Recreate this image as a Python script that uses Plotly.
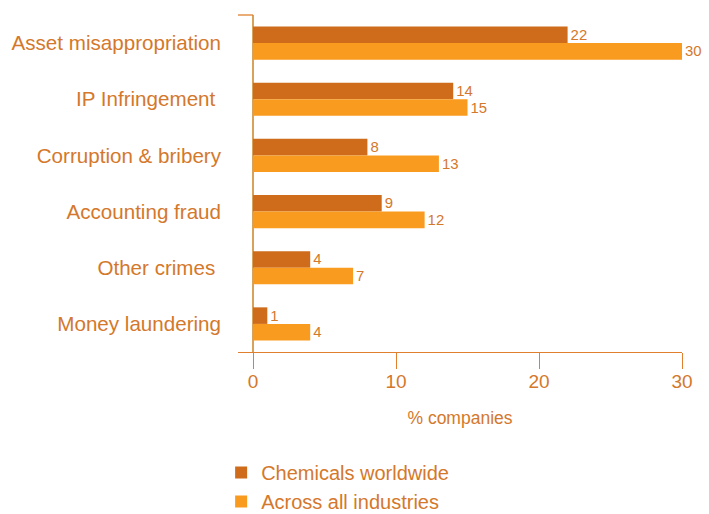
import plotly.graph_objects as go

categories = ["Asset misappropriation", "IP Infringement ", "Corruption & bribery",
              "Accounting fraud", "Other crimes ", "Money laundering"]
chemicals = [22, 14, 8, 9, 4, 1]
all_industries = [30, 15, 13, 12, 7, 4]
series_names = ["Chemicals worldwide", "Across all industries"]
tick_vals = [0, 10, 20, 30]

TXT = "#D4782C"
DARK = "#CF6C1B"
LIGHT = "#F99B1F"
FONT = "Liberation Sans, Arial, sans-serif"

fig = go.Figure()
fig.add_trace(go.Bar(y=categories, x=chemicals, orientation="h", name=series_names[0],
                     marker=dict(color=DARK, line=dict(width=0)),
                     text=chemicals, textposition="outside", cliponaxis=False,
                     textfont=dict(color=TXT, size=18, family=FONT)))
fig.add_trace(go.Bar(y=categories, x=all_industries, orientation="h", name=series_names[1],
                     marker=dict(color=LIGHT, line=dict(width=0)),
                     text=all_industries, textposition="outside", cliponaxis=False,
                     textfont=dict(color=TXT, size=18, family=FONT)))

fig.update_layout(
    width=709, height=514,
    margin=dict(l=238, r=27, t=15, b=162, autoexpand=False),
    paper_bgcolor="white", plot_bgcolor="white",
    barmode="group", bargap=0.41, bargroupgap=0,
    font=dict(family=FONT, color=TXT, size=20),
    showlegend=True,
    legend=dict(orientation="v", x=-0.038, xanchor="left", y=-0.30, yanchor="top",
                font=dict(size=20, color=TXT), traceorder="normal",
                itemwidth=30, tracegroupgap=0),
    xaxis=dict(range=[-1.05, 30], tickvals=tick_vals, showgrid=False,
               showline=True, linecolor="#E0802E", linewidth=1.3,
               ticks="outside", ticklen=16, tickcolor="#E0802E", tickwidth=1.3,
               tickfont=dict(size=19, color=TXT), ticklabelstandoff=-4,
               zeroline=True, zerolinecolor="#D9A25A", zerolinewidth=1.5,
               title=dict(text="% companies", font=dict(size=17.5, color=TXT), standoff=20)),
    yaxis=dict(autorange="reversed", showgrid=False, showline=False, ticks="",
               tickfont=dict(size=20.6, color=TXT), ticklabelstandoff=16),
    shapes=[dict(type="line", xref="x", yref="paper", x0=-1.05, x1=0, y0=1, y1=1,
                 line=dict(color="#E0802E", width=1.3))],
)

fig.write_html("out.html")
